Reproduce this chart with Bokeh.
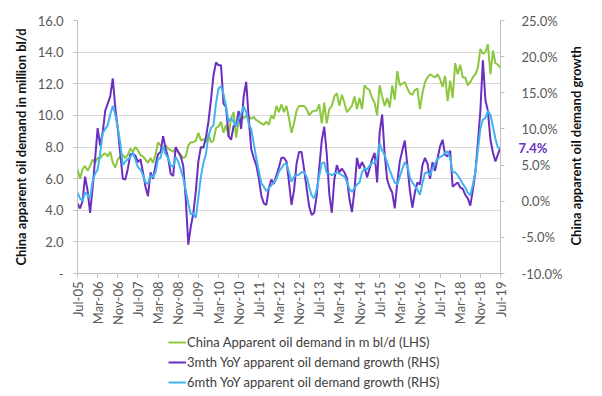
import math
from bokeh.plotting import figure
from bokeh.layouts import column
from bokeh.models import (Range1d, LinearAxis, FixedTicker, PrintfTickFormatter,
                          Legend, LegendItem)
from bokeh.embed import file_html
from bokeh.resources import INLINE

# ---------------- data ----------------
tick_labels = ["Jul-05", "Mar-06", "Nov-06", "Jul-07", "Mar-08", "Nov-08", "Jul-09",
               "Mar-10", "Nov-10", "Jul-11", "Mar-12", "Nov-12", "Jul-13", "Mar-14",
               "Nov-14", "Jul-15", "Mar-16", "Nov-16", "Jul-17", "Mar-18", "Nov-18", "Jul-19"]
months_per_label = 8

lhs_ticks = [0, 2, 4, 6, 8, 10, 12, 14, 16]
rhs_ticks = [-10, -5, 0, 5, 10, 15, 20, 25]

lhs_title = "China apparent oil demand in million bl/d"
rhs_title = "China apparent oil demand growth"
series_names = ["China Apparent oil demand in m bl/d (LHS)",
                "3mth YoY apparent oil demand growth (RHS)",
                "6mth YoY apparent oil demand growth (RHS)"]

# China apparent oil demand, million b/d (monthly, Jul-05 .. Jul-19)
green = [6.6, 6.0, 6.6, 6.8, 6.5, 6.8, 7.2, 7.0, 7.3, 7.3, 7.5, 7.6,
         7.4, 7.7, 7.0, 6.7, 7.2, 7.4, 7.5, 7.3, 7.5, 7.9, 7.7, 8.0,
         7.8, 7.5, 7.4, 7.2, 7.0, 7.3, 7.0, 7.5, 8.3, 8.1, 7.9, 8.1,
         7.9, 7.8, 7.7, 7.9, 7.7, 7.5, 7.3, 7.4, 8.1, 8.3, 8.3, 8.4,
         8.9, 8.4, 8.5, 8.3, 8.8, 8.3, 8.4, 9.2, 9.3, 9.6, 8.9, 9.4,
         8.7, 9.8, 10.2, 8.6, 9.6, 10.0, 9.8, 10.0, 9.9, 9.8, 9.9, 9.7,
         9.6, 9.5, 9.4, 9.6, 9.4, 10.0, 9.8, 10.6, 10.2, 10.7, 10.2, 10.6,
         9.8, 8.9, 9.5, 10.3, 10.6, 10.6, 10.6, 10.4, 10.0, 10.2, 10.3, 10.3,
         10.7, 9.5, 10.8, 9.5, 10.4, 10.6, 11.2, 11.4, 10.6, 11.3, 10.8, 10.2,
         10.4, 10.6, 11.2, 10.4, 11.1, 10.4, 11.9, 11.7, 11.6, 11.1, 10.8, 10.0,
         11.9, 11.2, 10.6, 11.1, 10.5, 11.9, 11.0, 12.8, 11.9, 12.0, 12.1, 11.7,
         11.4, 11.3, 11.6, 11.7, 10.4, 11.4, 12.1, 12.4, 12.6, 12.5, 12.4, 12.6,
         12.3, 11.8, 12.5, 10.9, 12.2, 11.1, 13.3, 12.6, 13.2, 12.4, 12.4, 11.9,
         12.1, 12.4, 12.6, 13.0, 14.2, 13.9, 14.0, 14.5, 12.6, 14.1, 13.3, 13.2,
         13.0]

# 3mth YoY growth, %
purple = [-0.3, -1.0, 0.0, 3.4, 1.5, -1.6, 1.8, 5.9, 10.1, 7.7, 9.5, 12.5,
          13.5, 14.5, 17.0, 13.0, 10.0, 6.5, 3.1, 3.0, 4.5, 6.5, 6.6, 6.3,
          5.4, 5.8, 4.0, 2.0, 0.7, 4.0, 3.1, 5.0, 6.5, 6.8, 9.0, 7.3,
          6.0, 3.8, 3.5, 7.5, 6.8, 6.2, 4.9, 0.3, -6.0, -3.5, -1.7, 1.4,
          5.5, 7.5, 7.4, 8.8, 11.0, 14.0, 17.4, 19.2, 18.8, 18.8, 13.5, 13.0,
          9.0, 8.5, 10.4, 10.5, 12.5, 10.0, 14.5, 16.5, 11.5, 7.2, 6.0, 5.0,
          3.2, 0.8, -0.3, -0.5, 1.8, 3.0, 2.4, 3.6, 4.7, 6.0, 6.0, 5.5,
          2.6, -0.5, 1.5, 5.2, 6.8, 6.8, 4.4, 1.8, -0.7, -1.9, -1.6, 0.8,
          4.5, 8.4, 10.3, 6.5, 1.0, -1.6, 3.0, 5.0, 4.0, 4.5, 4.0, 3.2,
          0.3, -1.5, 1.5, 6.0, 4.5, 5.4, 4.7, 3.3, 4.5, 5.8, 6.7, 2.6,
          9.5, 12.0, 6.5, 3.0, 1.9, 1.2, -1.0, 2.5, 5.5, 7.0, 8.4, 5.0,
          1.5, -0.9, 1.2, 2.6, 2.3, 5.0, 6.0, 5.2, 3.1, 5.4, 4.2, 5.9,
          7.6, 8.5, 6.4, 6.2, 7.0, 2.0, 2.3, 2.6, 1.9, 1.7, 0.9, 0.4,
          -0.6, 1.5, 4.0, 8.0, 12.5, 19.5, 14.0, 12.5, 8.5, 6.7, 5.5, 6.5,
          7.4]

# 6mth YoY growth, %
blue = [1.2, 0.4, 0.0, 1.2, 0.9, 0.4, 2.8, 3.8, 4.4, 6.6, 9.4, 10.0,
        10.5, 12.0, 13.2, 12.0, 10.2, 8.0, 5.0, 5.5, 5.8, 6.1, 6.7, 5.7,
        4.7, 4.4, 3.6, 2.6, 2.4, 3.6, 3.3, 4.0, 5.8, 6.0, 7.6, 6.5,
        6.0, 4.9, 4.8, 6.1, 5.5, 4.4, 3.2, 1.5, -0.3, -1.8, -1.7, -2.3,
        0.5, 3.4, 5.3, 6.5, 9.0, 10.1, 10.5, 13.5, 15.6, 15.9, 14.8, 13.1,
        11.0, 11.5, 11.0, 10.3, 11.4, 12.2, 13.1, 12.3, 10.7, 10.0, 8.0, 6.0,
        4.2, 2.5, 2.0, 1.4, 1.8, 2.2, 2.6, 3.1, 4.1, 4.6, 5.1, 5.2,
        4.0, 2.7, 3.4, 3.6, 3.7, 4.0, 4.0, 3.4, 2.0, 0.8, 0.4, 1.6,
        3.5, 5.2, 5.4, 3.9, 3.8, 3.6, 3.8, 4.0, 3.8, 3.6, 3.4, 2.7,
        1.7, 1.3, 1.8, 2.3, 2.6, 4.0, 4.5, 4.4, 4.9, 5.3, 5.2, 6.0,
        8.0, 7.0, 6.4, 5.3, 4.3, 3.4, 2.6, 2.3, 3.4, 4.5, 5.4, 4.9,
        3.3, 2.6, 2.1, 1.6, 0.9, 2.5, 3.9, 4.0, 3.6, 4.5, 5.2, 5.9,
        6.1, 6.3, 6.7, 6.9, 6.0, 4.0, 4.0, 3.6, 3.0, 2.4, 1.9, 1.2,
        0.8, 2.2, 4.0, 7.0, 10.0, 11.3, 11.5, 12.5, 12.0, 10.3, 8.6, 7.4,
        7.4]

# ---------------- styling ----------------
GREEN = "#8DC63F"
PURPLE = "#6B2FC0"
BLUE = "#40B4F0"
COLORS = [GREEN, PURPLE, BLUE]
FONT = "Lato"
FS = "13px"
TICK_COLOR = "#595959"
TITLE_COLOR = "#111111"
AXIS_COLOR = "#BFBFBF"
GRID_COLOR = "#D9D9D9"

FIG_W = 594
CHART_H, LEGEND_H = 328, 68
BORDER_L, BORDER_T, BORDER_R, BORDER_B = 77, 20, 81, 55
FRAME_H = CHART_H - BORDER_T - BORDER_B
RHS_TITLE_LEN_PX = 197      # approx. rendered length of the rotated right title

months = list(range(len(green)))

p = figure(width=FIG_W, height=CHART_H,
           output_backend="svg", toolbar_location=None,
           x_range=Range1d(months[0], months[-1]),
           y_range=Range1d(lhs_ticks[0], lhs_ticks[-1]),
           min_border_left=BORDER_L, min_border_right=BORDER_R,
           min_border_top=BORDER_T, min_border_bottom=BORDER_B)
p.outline_line_color = None
p.background_fill_color = "white"
p.border_fill_color = "white"
p.extra_y_ranges = {"rhs": Range1d(rhs_ticks[0], rhs_ticks[-1])}


def style_labels(ax, color=TICK_COLOR, bold=False):
    ax.major_label_text_font = FONT
    ax.major_label_text_font_size = FS
    ax.major_label_text_color = color
    if bold:
        ax.major_label_text_font_style = "bold"


# ---- x axis
xa = p.xaxis[0]
label_pos = [i * months_per_label for i in range(len(tick_labels))]
xa.ticker = FixedTicker(ticks=label_pos)
xa.major_label_overrides = {pos: lab for pos, lab in zip(label_pos, tick_labels)}
xa.major_label_orientation = math.pi / 2
style_labels(xa)
xa.major_label_standoff = 4
xa.axis_line_color = AXIS_COLOR
xa.major_tick_line_color = AXIS_COLOR
xa.major_tick_in = 0
xa.major_tick_out = 4
xa.minor_tick_line_color = None

# ---- left axis
ya = p.yaxis[0]
ya.ticker = FixedTicker(ticks=lhs_ticks)
ya.major_label_overrides = {t: ("-" if t == 0 else f"{t:.1f}") for t in lhs_ticks}
ya.axis_label = lhs_title
ya.axis_label_text_font = FONT
ya.axis_label_text_font_style = "bold"
ya.axis_label_text_font_size = FS
ya.axis_label_text_color = TITLE_COLOR
ya.axis_label_standoff = 6
style_labels(ya)
ya.major_label_standoff = 10
ya.axis_line_color = AXIS_COLOR
ya.major_tick_line_color = AXIS_COLOR
ya.major_tick_in = 0
ya.major_tick_out = 4
ya.minor_tick_line_color = None

# ---- right side: (1) axis line + ticks + last-value label
r_last = LinearAxis(y_range_name="rhs",
                    ticker=FixedTicker(ticks=[purple[-1]], minor_ticks=rhs_ticks),
                    formatter=PrintfTickFormatter(format="%.1f%%"))
style_labels(r_last, color=PURPLE, bold=True)
r_last.major_label_standoff = 14
r_last.major_tick_in = 0
r_last.major_tick_out = 0
r_last.minor_tick_in = 0
r_last.minor_tick_out = 4
r_last.minor_tick_line_color = AXIS_COLOR
r_last.axis_line_color = AXIS_COLOR
p.add_layout(r_last, "right")

# ---- right side: (2) percentage tick labels
r_pct = LinearAxis(y_range_name="rhs", ticker=FixedTicker(ticks=rhs_ticks),
                   formatter=PrintfTickFormatter(format="%.1f%%"))
style_labels(r_pct)
r_pct.major_label_standoff = -29
r_pct.major_tick_out = 0
r_pct.major_tick_in = 0
r_pct.minor_tick_line_color = None
r_pct.major_tick_line_color = None
r_pct.axis_line_color = None
p.add_layout(r_pct, "right")

# ---- right side: (3) rotated title, reading bottom-to-top like the left one
rng = rhs_ticks[-1] - rhs_ticks[0]
title_start = (rhs_ticks[0] + rhs_ticks[-1]) / 2 - (RHS_TITLE_LEN_PX / 2) * rng / FRAME_H
r_title = LinearAxis(y_range_name="rhs", ticker=FixedTicker(ticks=[title_start]))
r_title.major_label_overrides = {title_start: rhs_title}
r_title.major_label_orientation = math.pi / 2
style_labels(r_title, color=TITLE_COLOR, bold=True)
r_title.major_label_standoff = 10
r_title.major_tick_out = 0
r_title.major_tick_in = 0
r_title.major_tick_line_color = None
r_title.minor_tick_line_color = None
r_title.axis_line_color = None
p.add_layout(r_title, "right")

p.xgrid.visible = False
p.ygrid.grid_line_color = GRID_COLOR
p.ygrid.grid_line_width = 1

# ---- series
p.line(months, green, line_color=GREEN, line_width=2)
p.line(months, purple, line_color=PURPLE, line_width=2, y_range_name="rhs")
p.line(months, blue, line_color=BLUE, line_width=2, y_range_name="rhs")

# ---------------- legend strip (separate figure below the chart) ----------------
p2 = figure(width=FIG_W, height=LEGEND_H, output_backend="svg", toolbar_location=None,
            x_range=Range1d(0, 1), y_range=Range1d(0, 1),
            min_border_left=0, min_border_right=0, min_border_top=0, min_border_bottom=0)
p2.axis.visible = False
p2.grid.visible = False
p2.outline_line_color = None
p2.background_fill_color = "white"
p2.border_fill_color = "white"

legend_items = []
for name, series, col in zip(series_names, [green, purple, blue], COLORS):
    r = p2.line(months, series, line_color=col, line_width=2, visible=False)
    legend_items.append(LegendItem(label=name, renderers=[r]))

# the legend strip's frame is aligned with the chart frame by the column layout
legend = Legend(items=legend_items, location=(91, 4), orientation="vertical")
legend.background_fill_alpha = 0
legend.border_line_color = None
legend.padding = 0
legend.margin = 0
legend.spacing = 0
legend.label_height = 20
legend.glyph_height = 12
legend.glyph_width = 18
legend.label_standoff = 1
legend.label_text_font = FONT
legend.label_text_font_size = FS
legend.label_text_color = "#404040"
legend.inactive_fill_alpha = 0
p2.add_layout(legend)

layout = column(p, p2, spacing=0)

open("out.html", "w").write(file_html(layout, INLINE))
